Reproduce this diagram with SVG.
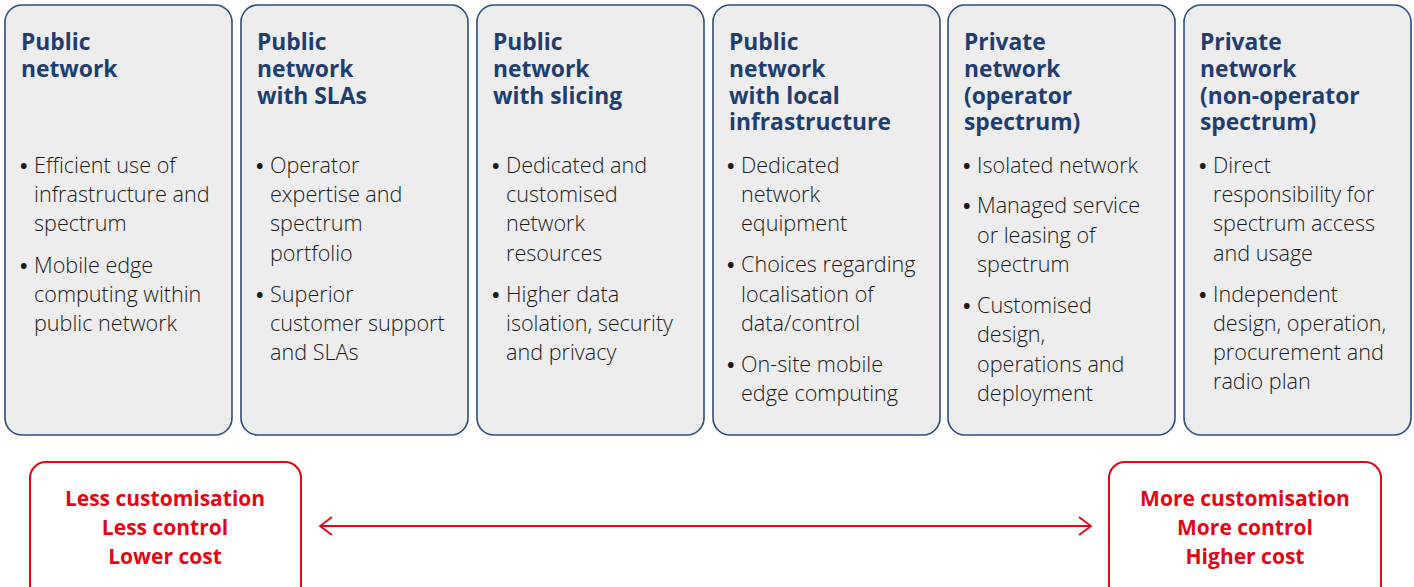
<svg xmlns="http://www.w3.org/2000/svg" width="1414" height="587" viewBox="0 0 1414 587">
<defs>
<style>
.box{fill:#ededed;stroke:#2d4d80;stroke-width:1.6}
.t{font-family:"Open Sans","Liberation Sans",sans-serif;font-weight:700;font-size:22.8px;fill:#1e3d70}
.b{font-family:"Open Sans","Liberation Sans",sans-serif;font-weight:300;font-size:21.6px;fill:#1a1a1a}
.d{font-weight:700;font-size:20px}
.rb{fill:#fff;stroke:#e30613;stroke-width:2}
.r{font-family:"Open Sans","Liberation Sans",sans-serif;font-weight:700;font-size:21px;fill:#e30613;text-anchor:middle}
.ln{stroke:#e30613;stroke-width:1.8;fill:none}
</style>
<marker id="ah" viewBox="0 0 14 20" refX="13" refY="10" markerWidth="14" markerHeight="20" markerUnits="userSpaceOnUse" orient="auto-start-reverse">
<path d="M1,1 L13,10 L1,19" fill="none" stroke="#e30613" stroke-width="1.8"/>
</marker>
</defs>

<g id="n1">
<rect class="box" x="5" y="5" width="227" height="430" rx="17"/>
<text class="t"><tspan x="21" y="50">Public</tspan><tspan x="21" y="77">network</tspan></text>
<text class="b"><tspan class="d" x="20" y="173">•</tspan><tspan x="34" y="173">Efficient use of</tspan><tspan x="34" y="202">infrastructure and</tspan><tspan x="34" y="231">spectrum</tspan>
<tspan class="d" x="20" y="273">•</tspan><tspan x="34" y="273">Mobile edge</tspan><tspan x="34" y="302">computing within</tspan><tspan x="34" y="331">public network</tspan></text>
</g>

<g id="n2">
<rect class="box" x="241" y="5" width="227" height="430" rx="17"/>
<text class="t"><tspan x="257" y="50">Public</tspan><tspan x="257" y="77">network</tspan><tspan x="257" y="104">with SLAs</tspan></text>
<text class="b"><tspan class="d" x="256" y="173">•</tspan><tspan x="270" y="173">Operator</tspan><tspan x="270" y="202">expertise and</tspan><tspan x="270" y="231">spectrum</tspan><tspan x="270" y="261">portfolio</tspan>
<tspan class="d" x="256" y="302">•</tspan><tspan x="270" y="302">Superior</tspan><tspan x="270" y="331">customer support</tspan><tspan x="270" y="360">and SLAs</tspan></text>
</g>

<g id="n3">
<rect class="box" x="477" y="5" width="227" height="430" rx="17"/>
<text class="t"><tspan x="493" y="50">Public</tspan><tspan x="493" y="77">network</tspan><tspan x="493" y="104">with slicing</tspan></text>
<text class="b"><tspan class="d" x="492" y="173">•</tspan><tspan x="506" y="173">Dedicated and</tspan><tspan x="506" y="202">customised</tspan><tspan x="506" y="231">network</tspan><tspan x="506" y="261">resources</tspan>
<tspan class="d" x="492" y="302">•</tspan><tspan x="506" y="302">Higher data</tspan><tspan x="506" y="331">isolation, security</tspan><tspan x="506" y="360">and privacy</tspan></text>
</g>

<g id="n4">
<rect class="box" x="713" y="5" width="227" height="430" rx="17"/>
<text class="t"><tspan x="729" y="50">Public</tspan><tspan x="729" y="77">network</tspan><tspan x="729" y="104">with local</tspan><tspan x="729" y="130">infrastructure</tspan></text>
<text class="b"><tspan class="d" x="727" y="173">•</tspan><tspan x="741" y="173">Dedicated</tspan><tspan x="741" y="202">network</tspan><tspan x="741" y="231">equipment</tspan>
<tspan class="d" x="727" y="272">•</tspan><tspan x="741" y="272">Choices regarding</tspan><tspan x="741" y="302">localisation of</tspan><tspan x="741" y="331">data/control</tspan>
<tspan class="d" x="727" y="372">•</tspan><tspan x="741" y="372">On-site mobile</tspan><tspan x="741" y="401">edge computing</tspan></text>
</g>

<g id="n5">
<rect class="box" x="948" y="5" width="227" height="430" rx="17"/>
<text class="t"><tspan x="964" y="50">Private</tspan><tspan x="964" y="77">network</tspan><tspan x="964" y="104">(operator</tspan><tspan x="964" y="130">spectrum)</tspan></text>
<text class="b"><tspan class="d" x="963" y="173">•</tspan><tspan x="977" y="173">Isolated network</tspan>
<tspan class="d" x="963" y="213">•</tspan><tspan x="977" y="213">Managed service</tspan><tspan x="977" y="243">or leasing of</tspan><tspan x="977" y="272">spectrum</tspan>
<tspan class="d" x="963" y="313">•</tspan><tspan x="977" y="313">Customised</tspan><tspan x="977" y="342">design,</tspan><tspan x="977" y="372">operations and</tspan><tspan x="977" y="401">deployment</tspan></text>
</g>

<g id="n6">
<rect class="box" x="1184" y="5" width="227" height="430" rx="17"/>
<text class="t"><tspan x="1200" y="50">Private</tspan><tspan x="1200" y="77">network</tspan><tspan x="1200" y="104">(non-operator</tspan><tspan x="1200" y="130">spectrum)</tspan></text>
<text class="b"><tspan class="d" x="1199" y="173">•</tspan><tspan x="1213" y="173">Direct</tspan><tspan x="1213" y="202">responsibility for</tspan><tspan x="1213" y="231">spectrum access</tspan><tspan x="1213" y="261">and usage</tspan>
<tspan class="d" x="1199" y="302">•</tspan><tspan x="1213" y="302">Independent</tspan><tspan x="1213" y="331">design, operation,</tspan><tspan x="1213" y="360">procurement and</tspan><tspan x="1213" y="389">radio plan</tspan></text>
</g>

<g id="left">
<rect class="rb" x="30" y="462" width="271" height="150" rx="16"/>
<text class="r"><tspan x="165" y="506">Less customisation</tspan><tspan x="165" y="535">Less control</tspan><tspan x="165" y="564">Lower cost</tspan></text>
</g>

<g id="right">
<rect class="rb" x="1109" y="462" width="272" height="150" rx="16"/>
<text class="r"><tspan x="1245" y="506">More customisation</tspan><tspan x="1245" y="535">More control</tspan><tspan x="1245" y="564">Higher cost</tspan></text>
</g>

<g id="connectors">
<line class="ln" x1="320" y1="526" x2="1091" y2="526" marker-start="url(#ah)" marker-end="url(#ah)"/>
</g>
</svg>
